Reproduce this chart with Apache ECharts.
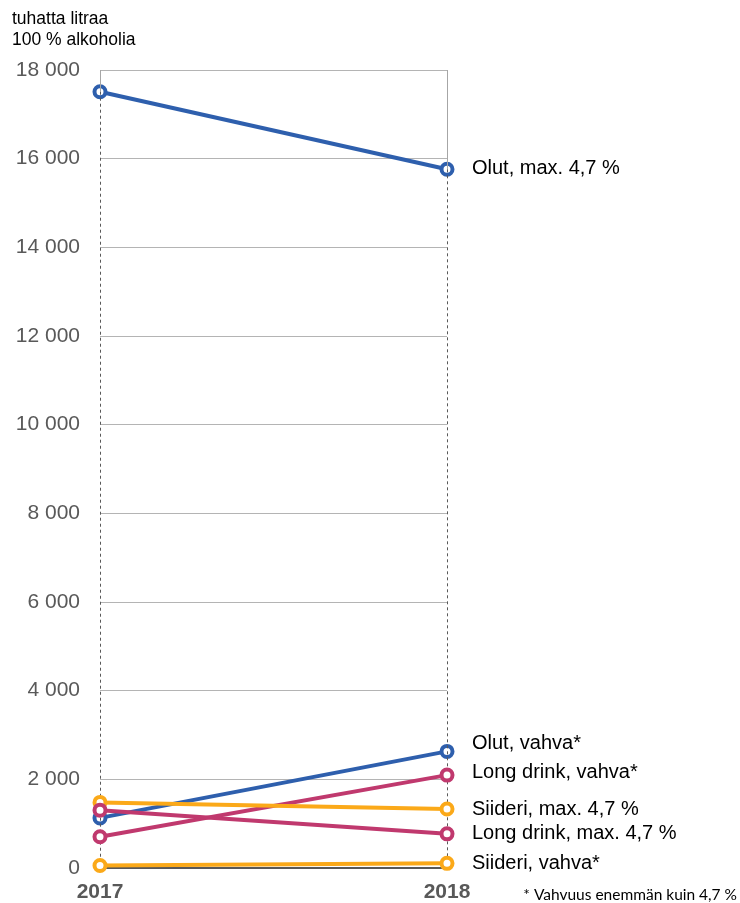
<!DOCTYPE html>
<html>
<head>
<meta charset="utf-8">
<script src="https://cdn.jsdelivr.net/npm/echarts@6/dist/echarts.min.js"></script>
<style>
  html, body { margin: 0; padding: 0; background: #fff; }
  #chart { width: 740px; height: 903px; }
</style>
</head>
<body>
<div id="chart"></div>
<script>
// Alcohol volumes, thousand litres of 100 % alcohol
const years = ['2017', '2018'];
const olutMax = [17510, 15760];
const olutVahva = [1130, 2630];
const longDrinkVahva = [705, 2095];
const siideriMax = [1480, 1330];
const longDrinkMax = [1305, 770];
const siideriVahva = [55, 105];

const seriesNames = [
  'Olut, max. 4,7 %',
  'Olut, vahva*',
  'Long drink, vahva*',
  'Siideri, max. 4,7 %',
  'Long drink, max. 4,7 %',
  'Siideri, vahva*'
];

// value axis ticks
const yMin = 0;
const yMax = 18000;
const yStep = 2000;

const unitTitle = 'tuhatta litraa\n100 % alkoholia';
const footnote = '* Vahvuus enemmän kuin 4,7 %';

const BLUE = '#2E5FAD';
const PINK = '#C0396E';
const ORANGE = '#FBA919';
const FONT = 'Liberation Sans, Arial, sans-serif';

const allValues = [olutMax, olutVahva, longDrinkVahva, siideriMax, longDrinkMax, siideriVahva];
const colors = [BLUE, BLUE, PINK, ORANGE, PINK, ORANGE];
const labelOffsets = [[0, -1], [0, -8], [0, -3], [0, 0], [0, 0], [0, 0]];

// highest value per year: drop lines go down from it, plot frame goes up from it
const peaks = years.map((y, i) => Math.max(...allValues.map(s => s[i])));

const frameLines = [];
years.forEach((y, i) => {
  frameLines.push([
    { coord: [y, yMax], lineStyle: { color: '#A6A6A6', width: 1, type: 'solid' } },
    { coord: [y, peaks[i]] }
  ]);
  frameLines.push([
    { coord: [y, peaks[i]], lineStyle: { color: '#595959', width: 1, type: [3, 3] } },
    { coord: [y, yMin] }
  ]);
});

const fmt = v => String(v).replace(/\B(?=(\d{3})+(?!\d))/g, ' ');

const series = allValues.map((vals, k) => ({
  name: seriesNames[k],
  type: 'line',
  data: vals,
  z: 3 + k,
  symbol: 'circle',
  symbolSize: 11,
  showAllSymbol: true,
  lineStyle: { color: colors[k], width: 4 },
  itemStyle: { color: '#fff', borderColor: colors[k], borderWidth: 4 },
  emphasis: { disabled: true },
  endLabel: {
    show: true,
    formatter: '{a}',
    color: '#000',
    fontFamily: FONT,
    fontSize: 20,
    distance: 25,
    offset: labelOffsets[k]
  }
}));

// frame and drop lines drawn above the lines
series.push({
  type: 'line',
  data: [],
  silent: true,
  z: 20,
  markLine: {
    silent: true,
    symbol: 'none',
    label: { show: false },
    animation: false,
    data: frameLines
  }
});

const chart = echarts.init(document.getElementById('chart'), null, { renderer: 'canvas' });
chart.setOption({
  animation: false,
  backgroundColor: '#fff',
  title: {
    text: unitTitle,
    left: 7,
    top: 4,
    textStyle: { fontFamily: FONT, fontSize: 17.5, fontWeight: 'normal', color: '#000', lineHeight: 21 }
  },
  graphic: [{
    type: 'text',
    right: 3,
    bottom: 0,
    style: { text: footnote, fontFamily: 'Lato, sans-serif', fontSize: 15.5, fill: '#000' }
  }],
  grid: { left: 100, right: 293, top: 70, bottom: 34, containLabel: false },
  xAxis: {
    type: 'category',
    data: years,
    boundaryGap: false,
    axisLine: { show: true, lineStyle: { color: '#595959', width: 2 } },
    axisTick: { show: false },
    splitLine: { show: false },
    axisLabel: { color: '#595959', fontFamily: FONT, fontSize: 21, fontWeight: 'bold', margin: 14 }
  },
  yAxis: {
    type: 'value',
    min: yMin,
    max: yMax,
    interval: yStep,
    axisLine: { show: false },
    axisTick: { show: false },
    splitLine: { lineStyle: { color: '#B4B4B4', width: 1 } },
    axisLabel: { color: '#595959', fontFamily: FONT, fontSize: 21, margin: 20, formatter: fmt }
  },
  series: series
});
</script>
</body>
</html>
